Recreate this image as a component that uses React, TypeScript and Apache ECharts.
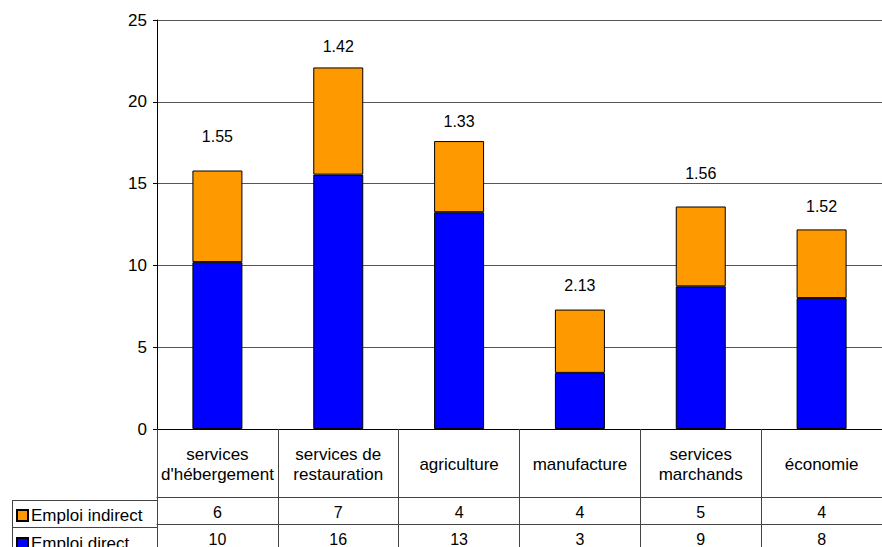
import React, { useEffect, useRef } from "react";
import * as echarts from "echarts";

const categories = [
  "services\nd'hébergement",
  "services de\nrestauration",
  "agriculture",
  "manufacture",
  "services\nmarchands",
  "économie",
];
const directJobs = [10.2, 15.55, 13.25, 3.43, 8.72, 8.0];
const indirectJobs = [5.6, 6.55, 4.35, 3.87, 4.88, 4.2];
const multipliers = ["1.55", "1.42", "1.33", "2.13", "1.56", "1.52"];
const indirectTable = ["6", "7", "4", "4", "5", "4"];
const directTable = ["10", "16", "13", "3", "9", "8"];
const seriesNames = ["Emploi indirect", "Emploi direct"];

// style only: gap between bar top and multiplier label (px)
const labelLift = [26, 13, 12, 16, 25, 15];

const FONT = "'Liberation Sans', Arial, Helvetica, sans-serif";
const BLUE = "#0000FF";
const ORANGE = "#FF9900";
const TABLE_LINE = "#444";

export default function App() {
  const ref = useRef<HTMLDivElement>(null);
  useEffect(() => {
    if (!ref.current) return;
    const chart = echarts.init(ref.current, undefined, { renderer: "svg" });
    const gridLeft = 157;
    const gridTop = 20;
    const gridHeight = 412;
    const gridWidth = 738;
    const axisY = gridTop + gridHeight; // 432
    const row1 = 500;
    const row2 = 527;
    const legendBase = {
      orient: "horizontal",
      left: 16,
      itemWidth: 11,
      itemHeight: 11,
      itemGap: 10,
      padding: 0,
      selectedMode: false,
      icon: "rect",
      textStyle: { fontFamily: FONT, fontSize: 17, color: "#000", padding: [0, 0, 0, -2] },
    };
    chart.setOption({
      animation: false,
      backgroundColor: "#fff",
      textStyle: { fontFamily: FONT, color: "#000" },
      grid: { left: gridLeft, top: gridTop, width: gridWidth, height: gridHeight, containLabel: false },
      legend: [
        { ...legendBase, data: [seriesNames[0]], top: row1 + 7 },
        { ...legendBase, data: [seriesNames[1]], top: row2 + 8 },
      ],
      xAxis: [
        {
          type: "category",
          data: categories,
          position: "bottom",
          boundaryGap: true,
          axisLine: { show: true, lineStyle: { color: "#000", width: 1 } },
          axisTick: { show: true, length: row1 - axisY, lineStyle: { color: TABLE_LINE } },
          axisLabel: {
            interval: 0,
            margin: 35,
            verticalAlign: "middle",
            fontFamily: FONT,
            fontSize: 17,
            lineHeight: 20,
            color: "#000",
          },
        },
        {
          type: "category",
          data: indirectTable,
          position: "bottom",
          offset: row1 - axisY,
          axisLine: { show: true, lineStyle: { color: TABLE_LINE, width: 1 } },
          axisTick: { show: true, length: row2 - row1, lineStyle: { color: TABLE_LINE } },
          axisLabel: { interval: 0, margin: 15, verticalAlign: "middle", fontFamily: FONT, fontSize: 16, color: "#000" },
        },
        {
          type: "category",
          data: directTable,
          position: "bottom",
          offset: row2 - axisY,
          axisLine: { show: true, lineStyle: { color: TABLE_LINE, width: 1 } },
          axisTick: { show: true, length: 40, lineStyle: { color: TABLE_LINE } },
          axisLabel: { interval: 0, margin: 15, verticalAlign: "middle", fontFamily: FONT, fontSize: 16, color: "#000" },
        },
      ],
      yAxis: {
        type: "value",
        min: 0,
        max: 25,
        interval: 5,
        axisLine: { show: true, lineStyle: { color: "#000", width: 1 } },
        axisTick: { show: true, length: 4, lineStyle: { color: "#000" } },
        splitLine: { show: true, lineStyle: { color: "#555", width: 1 } },
        axisLabel: { margin: 10, fontFamily: FONT, fontSize: 17, color: "#000" },
      },
      series: [
        {
          name: seriesNames[1],
          type: "bar",
          stack: "jobs",
          barWidth: 50,
          xAxisIndex: 0,
          itemStyle: { color: BLUE, borderColor: "#000", borderWidth: 1 },
          data: directJobs,
        },
        {
          name: seriesNames[0],
          type: "bar",
          stack: "jobs",
          barWidth: 50,
          xAxisIndex: 0,
          itemStyle: { color: ORANGE, borderColor: "#000", borderWidth: 1 },
          label: { show: true, position: "top", fontFamily: FONT, fontSize: 16, color: "#000" },
          data: indirectJobs.map((v, i) => ({
            value: v,
            label: { distance: labelLift[i], formatter: multipliers[i] },
          })),
        },
      ],
      graphic: [
        { type: "line", silent: true, shape: { x1: 12, y1: row1 + 0.5, x2: gridLeft, y2: row1 + 0.5 }, style: { stroke: TABLE_LINE, lineWidth: 1 } },
        { type: "line", silent: true, shape: { x1: 12, y1: row2 + 0.5, x2: gridLeft, y2: row2 + 0.5 }, style: { stroke: TABLE_LINE, lineWidth: 1 } },
        { type: "line", silent: true, shape: { x1: 12.5, y1: row1, x2: 12.5, y2: 560 }, style: { stroke: TABLE_LINE, lineWidth: 1 } },
      ],
    });
    return () => chart.dispose();
  }, []);
  return (
    <div
      ref={ref}
      style={{ position: "absolute", left: 0, top: 0, width: 882, height: 547, overflow: "hidden", background: "#fff" }}
    />
  );
}
